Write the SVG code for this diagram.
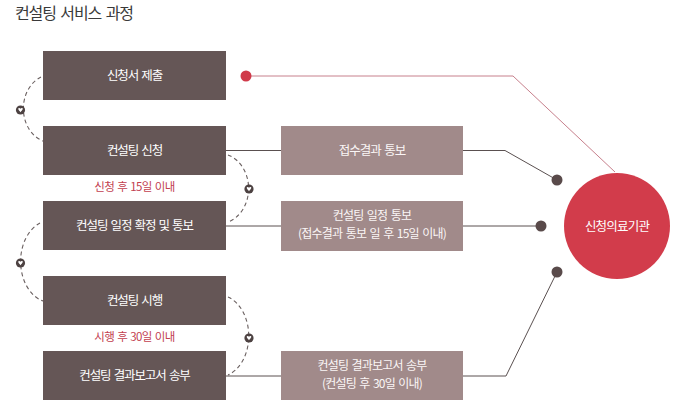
<svg xmlns="http://www.w3.org/2000/svg" xmlns:xlink="http://www.w3.org/1999/xlink" width="680" height="413" viewBox="0 0 680 413">
<style>
text{font-family:"Noto Sans CJK KR","Noto Sans",sans-serif;}
.title{font-size:16px;fill:#3a3a3a;letter-spacing:-1.1px;word-spacing:2px;}
.step rect{fill:#655656;}
.step text{fill:#ffffff;font-size:12.5px;letter-spacing:-1.1px;word-spacing:1.5px;text-anchor:middle;}
.msg rect{fill:#a18a8a;}
.msg text{fill:#fbf6f6;font-size:12.5px;letter-spacing:-1px;word-spacing:1.5px;text-anchor:middle;}
.msg text.s{font-size:12px;letter-spacing:-0.8px;}
.note{fill:#c2404f;font-size:11.5px;letter-spacing:-0.6px;word-spacing:1px;text-anchor:middle;}
.ln{fill:none;stroke:#5a5050;stroke-width:1;}
.red{fill:none;stroke:#c7808c;stroke-width:1;}
.dash{fill:none;stroke:#6a6060;stroke-width:1.1;stroke-dasharray:4 3;}
.dot{fill:#594a4a;}
</style>
<defs>
<g id="mk">
<circle r="4.6" fill="#4d4242"/>
<path d="M-2.3,-1.2 C-2.3,-2.4 -0.6,-2.4 0,-1.3 C0.6,-2.4 2.3,-2.4 2.3,-1.2 C2.3,0 0.8,1 0,2.2 C-0.8,1 -2.3,0 -2.3,-1.2 Z" fill="#ffffff"/>
</g>
</defs>
<rect width="680" height="413" fill="#ffffff"/>
<text class="title" x="15" y="19">컨설팅 서비스 과정</text>

<g id="connectors">
<path class="dash" d="M41,77 A28 34 0 0 0 43,141"/>
<path class="dash" d="M228,155 A29 35 0 0 1 228,222"/>
<path class="dash" d="M40,223 A30 41 0 0 0 43,301"/>
<path class="dash" d="M228,297 A30 41 0 0 1 228,375"/>
<use xlink:href="#mk" x="20.5" y="110"/>
<use xlink:href="#mk" x="249" y="189"/>
<use xlink:href="#mk" x="20.5" y="263"/>
<use xlink:href="#mk" x="249" y="338"/>

<path class="red" d="M246,76 L513,76 L615,172"/>
<circle cx="246" cy="76" r="5.5" fill="#d03a4a"/>

<path class="ln" d="M226,150.5 L281,150.5"/>
<path class="ln" d="M463,150.5 L505,150.5 L557,180"/>
<path class="ln" d="M226,226 L281,226"/>
<path class="ln" d="M463,226 L541,226"/>
<path class="ln" d="M226,376 L281,376"/>
<path class="ln" d="M463,376 L506,376 L557,272"/>
<circle class="dot" cx="557" cy="180" r="5.5"/>
<circle class="dot" cx="541" cy="226" r="5.5"/>
<circle class="dot" cx="557" cy="272" r="5.5"/>
</g>

<g id="step1" class="step"><rect x="43" y="51" width="183" height="49"/><text x="134.5" y="80">신청서 제출</text></g>
<g id="step2" class="step"><rect x="43" y="126" width="183" height="49"/><text x="134.5" y="155">컨설팅 신청</text></g>
<text id="note1" class="note" x="134.5" y="191">신청 후 15일 이내</text>
<g id="step3" class="step"><rect x="43" y="201" width="183" height="49"/><text x="134.5" y="230">컨설팅 일정 확정 및 통보</text></g>
<g id="step4" class="step"><rect x="43" y="276" width="183" height="49"/><text x="134.5" y="305">컨설팅 시행</text></g>
<text id="note2" class="note" x="134.5" y="341">시행 후 30일 이내</text>
<g id="step5" class="step"><rect x="43" y="351" width="183" height="49"/><text x="134.5" y="380">컨설팅 결과보고서 송부</text></g>

<g id="msg1" class="msg"><rect x="281" y="126" width="182" height="49"/><text x="372" y="155">접수결과 통보</text></g>
<g id="msg2" class="msg"><rect x="281" y="201" width="182" height="50"/><text class="s" x="372" y="219.5">컨설팅 일정 통보</text><text class="s" x="372" y="237.5">(접수결과 통보 일 후 15일 이내)</text></g>
<g id="msg3" class="msg"><rect x="281" y="351" width="182" height="49"/><text class="s" x="372" y="369.5">컨설팅 결과보고서 송부</text><text class="s" x="372" y="387.5">(컨설팅 후 30일 이내)</text></g>

<g id="org"><circle cx="617" cy="226" r="53" fill="#d23c4b"/><text x="617" y="230.5" fill="#ffffff" font-size="12.5" letter-spacing="-0.8" text-anchor="middle">신청의료기관</text></g>
</svg>
